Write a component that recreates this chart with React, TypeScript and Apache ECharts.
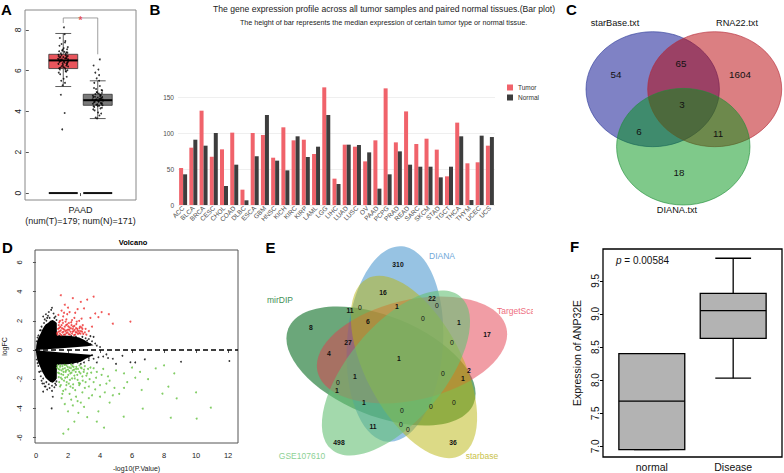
import React, { useEffect, useRef } from 'react';
import * as echarts from 'echarts';

const FONT = '"Liberation Sans", Arial, Helvetica, sans-serif';

// ---------------- Panel A : PAAD box plot ----------------
const paadGroupPos = [1, 2];
const paadBoxStats = [
  [5.22, 6.1, 6.5, 6.8, 7.82],
  [3.65, 4.3, 4.55, 4.84, 5.5],
];
const paadZeroLevel = [0, 0];
const paadBoxColors = ['#E9555C', '#7A7A7A'];
const paadLabel = 'PAAD';
const paadNumT = 179;
const paadNumN = 171;
const paadTicks = [0, 2, 4, 6, 8];
// [jitter offset, expression]
const paadTumorPoints = [
  [-0.08, 6.52], [0.05, 6.61], [0.12, 6.38], [-0.13, 6.7], [0.02, 6.45], [0.09, 6.9], [-0.04, 6.22], [0.14, 6.55], [-0.1, 6.05], [0.07, 6.75],
  [-0.02, 7.02], [0.11, 6.3], [-0.15, 6.58], [0.04, 6.15], [-0.07, 6.85], [0.13, 7.15], [-0.11, 6.42], [0.0, 6.66], [0.08, 5.95], [-0.05, 7.3],
  [0.15, 6.48], [-0.12, 6.12], [0.03, 6.92], [-0.09, 5.82], [0.1, 6.62], [-0.01, 6.28], [0.06, 7.45], [-0.14, 6.78], [0.12, 6.02], [-0.06, 6.5],
  [0.01, 5.6], [0.09, 6.35], [-0.03, 6.98], [0.14, 6.2], [-0.1, 7.6], [0.05, 5.4], [-0.08, 6.68], [0.11, 7.05], [-0.13, 5.9], [0.03, 6.4],
  [0.07, 6.83], [-0.04, 6.56], [0.1, 5.7], [-0.11, 7.22], [0.0, 6.18], [0.13, 6.72], [-0.06, 5.5], [0.04, 7.78], [-0.14, 6.33], [0.08, 6.6],
  [-0.02, 5.28], [0.12, 6.88], [-0.09, 6.47], [0.06, 6.08], [-0.12, 6.95], [0.02, 8.12], [-0.07, 4.82], [0.04, 3.92], [-0.03, 3.12], [0.09, 6.25],
  [-0.05, 6.77], [0.13, 6.42], [-0.1, 6.63], [0.01, 7.1], [0.07, 5.98], [-0.13, 6.52], [0.1, 6.7], [-0.02, 6.36], [0.05, 7.38], [-0.08, 6.15],
];
const paadNormalPoints = [
  [-0.08, 4.55], [0.05, 4.62], [0.12, 4.4], [-0.13, 4.7], [0.02, 4.48], [0.09, 4.8], [-0.04, 4.33], [0.14, 4.58], [-0.1, 4.22], [0.07, 4.75],
  [-0.02, 4.92], [0.11, 4.37], [-0.15, 4.6], [0.04, 4.28], [-0.07, 4.85], [0.13, 5.02], [-0.11, 4.45], [0.0, 4.68], [0.08, 4.15], [-0.05, 5.1],
  [0.15, 4.52], [-0.12, 4.25], [0.03, 4.88], [-0.09, 4.05], [0.1, 4.65], [-0.01, 4.35], [0.06, 5.25], [-0.14, 4.78], [0.12, 4.18], [-0.06, 4.57],
  [0.01, 3.95], [0.09, 4.42], [-0.03, 4.95], [0.14, 4.3], [-0.1, 5.4], [0.05, 3.8], [-0.08, 4.72], [0.11, 5.05], [-0.13, 4.1], [0.03, 4.5],
  [0.07, 4.82], [-0.04, 4.6], [0.1, 3.9], [-0.11, 5.15], [0.0, 4.27], [0.13, 4.7], [-0.06, 3.7], [0.04, 5.5], [-0.14, 4.38], [0.08, 4.63],
  [-0.02, 3.66], [0.12, 4.9], [-0.09, 4.47], [0.06, 6.55], [-0.12, 6.25], [0.02, 6.05], [-0.07, 5.9], [0.04, 5.78], [-0.03, 5.62], [0.09, 4.55],
];
const paadBracket = [[1, 8.33], [1, 8.58], [2, 8.58], [2, 6.8]];
const paadStar = [1.5, 8.58];

// ---------------- Panel B : pan-cancer bar plot ----------------
const cancerTypes = ['ACC', 'BLCA', 'BRCA', 'CESC', 'CHOL', 'COAD', 'DLBC', 'ESCA', 'GBM', 'HNSC', 'KICH', 'KIRC', 'KIRP', 'LAML', 'LGG', 'LIHC', 'LUAD', 'LUSC', 'OV', 'PAAD', 'PCPG', 'PRAD', 'READ', 'SARC', 'SKCM', 'STAD', 'TGCT', 'THCA', 'THYM', 'UCEC', 'UCS'];
const tumorMedian = [51.4, 79.6, 131, 67, 77.3, 100.5, 21.3, 100, 97.2, 65.7, 107.9, 89.8, 90.7, 70.8, 163.4, 36.6, 83.8, 81, 60.6, 89.8, 162, 87, 130, 84.7, 92.1, 76.9, 39.8, 114.4, 57.9, 59.3, 82.4];
const normalMedian = [42.6, 90.7, 82.4, 100, 26.4, 56, 6.5, 67.6, 125, 61.6, 48.1, 95.4, 66.7, 81, 125, 29.2, 83.8, 83.3, 73.1, 22.7, 42.6, 74.5, 56, 53.2, 53.2, 38.4, 53.2, 95.4, 6.9, 96.3, 94.4];
const barTitle = 'The gene expression profile across all tumor samples and paired normal tissues.(Bar plot)';
const barSubtitle = 'The height of bar represents the median expression of certain tumor type or normal tissue.';

// ---------------- Panel C : 3-set Venn ----------------
const vennCSets = ['starBase.txt', 'RNA22.txt', 'DIANA.txt'];
const vennCCounts = [54, 65, 1604, 3, 6, 11, 18];

// ---------------- Panel D : volcano ----------------
const volcanoUpperBlob = [[0.0, 0.0], [0.02, 0.3], [0.06, 0.55], [0.12, 0.75], [0.2, 0.95], [0.3, 1.15], [0.4, 1.4], [0.5, 1.6], [0.6, 1.75], [0.75, 1.85], [0.9, 2.0], [1.05, 2.05], [1.2, 1.95], [1.3, 1.85], [1.31, 1.0], [1.6, 1.0], [2.0, 0.98], [2.4, 0.92], [2.7, 0.85], [3.0, 0.7], [3.3, 0.5], [3.6, 0.32], [3.2, 0.25], [2.6, 0.2], [2.0, 0.15], [1.4, 0.1], [0.9, 0.07], [0.5, 0.04], [0.2, 0.02]];
const volcanoLowerBlob = [[0.0, 0.0], [0.02, -0.3], [0.06, -0.55], [0.12, -0.8], [0.2, -1.0], [0.3, -1.25], [0.4, -1.5], [0.5, -1.7], [0.6, -1.9], [0.75, -2.05], [0.9, -2.2], [1.05, -2.25], [1.2, -2.1], [1.3, -1.95], [1.31, -1.0], [1.6, -1.0], [2.0, -0.98], [2.4, -0.9], [2.8, -0.8], [3.1, -0.6], [3.4, -0.45], [3.6, -0.35], [3.2, -0.3], [2.6, -0.25], [2.0, -0.2], [1.4, -0.15], [0.9, -0.1], [0.5, -0.06], [0.2, -0.03]];
const volcanoNotSig = [[0.45, 2.3], [0.62, 2.45], [0.8, 2.6], [0.95, 2.75], [1.1, 2.5], [1.22, 2.3], [1.0, 2.9], [0.7, 2.2], [0.35, 1.6], [0.25, 1.35], [1.45, 0.95], [2.9, 0.9], [3.1, 0.8], [3.3, 0.75], [3.5, 0.6], [3.7, 0.45], [3.8, 0.3], [4.0, 0.2], [3.6, 0.9], [3.4, 0.95],
  [0.4, -2.3], [0.55, -2.5], [0.7, -2.7], [0.85, -2.6], [1.0, -2.8], [1.15, -2.55], [1.25, -2.4], [0.45, -2.85], [0.98, -4.0], [1.05, -3.2], [0.3, -1.8], [0.2, -1.5], [3.0, -0.85], [3.3, -0.7], [3.6, -0.6], [3.9, -0.5], [4.2, -0.45], [4.5, -0.55], [4.8, -0.6], [5.0, -0.95], [5.4, -0.4], [5.9, -0.84], [6.2, -0.85], [6.8, -0.64], [9.06, -0.8], [12.08, -0.75], [4.4, -0.3], [3.8, -0.85], [2.8, -0.95], [3.5, -0.35],
  [0.15, 1.0], [0.3, 1.35], [0.5, 1.85], [0.65, 2.0], [0.85, 2.2], [1.15, 2.2], [1.28, 2.05], [0.55, 2.1], [0.75, 2.35], [1.35, 0.9], [1.6, 0.92], [2.2, 0.95], [2.5, 0.9], [3.2, 0.65], [3.4, 0.4], [0.05, 0.6], [0.1, 0.85],
  [0.15, -1.1], [0.3, -1.45], [0.45, -1.95], [0.65, -2.2], [0.8, -2.35], [1.0, -2.45], [1.2, -2.3], [1.28, -2.15], [0.6, -2.5], [1.4, -0.95], [1.8, -0.95], [2.3, -0.92], [2.6, -0.85], [3.3, -0.55], [0.05, -0.65], [0.1, -0.9], [0.35, -2.1], [0.5, -2.3]];
const volcanoUp = [[1.35, 1.05], [1.4, 1.25], [1.45, 1.5], [1.5, 1.1], [1.55, 1.35], [1.6, 1.7], [1.65, 1.2], [1.7, 1.45], [1.75, 1.05], [1.8, 1.6], [1.85, 1.3], [1.9, 1.15], [1.95, 1.75], [2.0, 1.4], [2.05, 1.08], [2.1, 1.55], [2.15, 1.25], [2.2, 1.9], [2.25, 1.12], [2.3, 1.45], [2.35, 1.3], [2.4, 1.65], [2.45, 1.05], [2.5, 1.5], [2.55, 1.2], [2.6, 1.35], [2.7, 1.15], [2.75, 1.6], [2.8, 1.3], [2.9, 1.45], [2.95, 1.1], [1.5, 2.0], [1.7, 2.3], [1.9, 2.1], [2.1, 2.6], [2.4, 2.2], [2.7, 2.0], [1.6, 2.7], [2.0, 2.9], [1.8, 3.1], [1.55, 3.75], [2.3, 3.55], [2.8, 3.3], [3.2, 3.45], [3.6, 3.65], [3.0, 2.85], [3.4, 2.2], [3.7, 2.5], [3.9, 2.25], [4.1, 2.6], [4.55, 2.45], [4.8, 1.8], [5.9, 1.95], [3.3, 1.3], [3.5, 1.6], [3.15, 1.05], [1.4, 2.4], [2.6, 2.8],
  [1.32, 1.15], [1.38, 1.45], [1.42, 1.7], [1.48, 1.28], [1.52, 1.58], [1.58, 1.02], [1.62, 1.5], [1.68, 1.85], [1.72, 1.25], [1.78, 1.4], [1.82, 1.05], [1.88, 1.7], [1.92, 1.35], [1.98, 1.2], [2.02, 1.62], [2.08, 1.38], [2.12, 1.05], [2.18, 1.48], [2.22, 1.7], [2.28, 1.25], [2.32, 1.6], [2.38, 1.02], [2.42, 1.38], [2.48, 1.22], [2.52, 1.78], [2.58, 1.45], [2.62, 1.1], [2.68, 1.3], [2.72, 1.5], [2.78, 1.12], [2.85, 1.55], [2.88, 1.25], [2.92, 1.7], [3.05, 1.2], [3.1, 1.45], [1.45, 1.9], [1.65, 2.05], [1.85, 1.95], [2.05, 1.85], [2.25, 2.05], [2.55, 1.95], [2.85, 2.15], [1.95, 2.45], [2.45, 2.55], [1.75, 2.55]];
const volcanoDown = [[1.35, -1.05], [1.4, -1.3], [1.45, -1.6], [1.5, -1.15], [1.55, -1.9], [1.6, -1.4], [1.65, -1.1], [1.7, -1.7], [1.75, -2.1], [1.8, -1.25], [1.85, -1.5], [1.9, -1.05], [1.95, -1.85], [2.0, -1.35], [2.05, -2.3], [2.1, -1.2], [2.15, -1.6], [2.2, -1.0], [2.25, -1.95], [2.3, -1.4], [2.35, -1.15], [2.4, -1.75], [2.5, -1.3], [2.6, -2.05], [2.7, -1.5], [2.8, -1.2], [2.9, -1.8], [3.0, -1.35], [3.1, -2.2], [3.2, -1.6], [1.5, -2.5], [1.7, -2.8], [1.9, -2.4], [2.1, -3.0], [2.3, -2.6], [2.5, -3.2], [2.7, -2.4], [2.9, -2.9], [3.3, -2.5], [3.5, -3.1], [3.7, -2.7], [4.0, -2.4], [4.3, -2.9], [4.6, -2.1], [4.9, -2.6], [5.2, -3.0], [3.4, -1.2], [3.8, -1.5], [4.2, -1.3], [4.5, -1.8], [5.0, -1.4], [5.5, -1.6], [6.0, -1.2], [6.6, -2.74], [6.67, -4.02], [7.48, -1.26], [7.9, -2.99], [8.0, -1.05], [8.27, -2.51], [8.64, -1.6], [8.79, -3.31], [8.42, -4.64], [10.0, -2.9], [10.04, -4.7], [10.92, -3.95], [5.48, -4.57], [4.25, -5.32], [3.8, -4.9], [3.2, -4.6], [2.4, -4.9], [2.0, -4.2], [2.02, -5.43], [1.71, -5.73], [2.3, -3.8], [2.8, -3.6], [1.6, -3.3], [1.8, -3.7], [3.0, -3.9], [4.6, -3.6], [5.5, -2.6], [6.2, -1.9], [1.45, -2.2], [2.65, -4.3],
  [1.32, -1.2], [1.38, -1.55], [1.42, -1.85], [1.48, -1.35], [1.52, -1.05], [1.58, -1.65], [1.62, -2.0], [1.68, -1.3], [1.72, -1.5], [1.78, -1.02], [1.82, -1.9], [1.88, -1.4], [1.92, -2.2], [1.98, -1.15], [2.02, -1.7], [2.08, -1.45], [2.12, -2.05], [2.18, -1.25], [2.22, -1.55], [2.28, -1.1], [2.32, -2.35], [2.38, -1.35], [2.42, -1.95], [2.48, -1.5], [2.52, -1.15], [2.58, -1.7], [2.62, -1.3], [2.68, -2.25], [2.72, -1.05], [2.78, -1.6], [2.85, -1.25], [2.92, -2.1], [2.98, -1.5], [3.05, -1.1], [3.15, -1.75], [3.25, -1.3], [3.35, -2.0], [3.45, -1.55], [3.6, -1.25], [3.75, -1.9], [1.55, -2.4], [1.85, -2.7], [2.15, -2.5], [2.45, -2.75], [2.75, -2.3], [3.05, -2.6], [3.6, -2.2], [4.1, -1.7], [4.4, -2.3], [1.65, -3.0], [2.2, -3.4], [2.6, -3.5], [3.3, -3.3], [4.0, -3.2], [3.9, -4.2], [4.8, -3.1], [5.7, -2.2], [6.5, -1.5], [7.0, -2.0]];
const volcanoXTicks = [0, 2, 4, 6, 8, 10, 12];
const volcanoYTicks = [-6, -4, -2, 0, 2, 4, 6];

// ---------------- Panel E : 5-set Venn ----------------
const vennESets = ['mirDIP', 'DIANA', 'TargetScan', 'starbase', 'GSE107610'];
const vennECounts = [310, 16, 22, 0, 11, 0, 1, 0, 1, 8, 6, 27, 0, 17, 4, 1, 0, 2, 1, 1, 0, 1, 1, 0, 0, 0, 11, 0, 0, 498, 36];

// ---------------- Panel F : ANP32E box plot ----------------
const fGroups = ['normal', 'Disease'];
const fGroupPos = [1, 2];
const fBoxStats = [
  [6.95, 6.95, 7.685, 8.4, 8.4],
  [8.03, 8.63, 9.05, 9.31, 9.84],
];
const fTicks = [7.0, 7.5, 8.0, 8.5, 9.0, 9.5];
const fPValue = '0.00584';

// ---------------- layout helpers ----------------
const txt = (x: number, y: number, text: string, o: any = {}) => ({
  type: 'text', x, y, z: o.z ?? 20, silent: true, rotation: o.rotation ?? 0,
  style: {
    text, fill: o.color ?? '#000', fontSize: o.size ?? 9, fontFamily: FONT,
    fontWeight: o.weight ?? 'normal', fontStyle: o.style ?? 'normal',
    textAlign: o.align ?? 'center', textVerticalAlign: o.valign ?? 'middle',
  },
});

const ell = (cx: number, cy: number, rx: number, ry: number, rotDeg: number, fill: string, stroke: string | null, z: number) => ({
  type: 'ellipse', x: cx, y: cy, rotation: (rotDeg * Math.PI) / 180, z, silent: true,
  shape: { cx: 0, cy: 0, rx, ry },
  style: { fill, stroke: stroke ?? 'none', lineWidth: stroke ? 1 : 0 },
});

function boxRenderer(halfW: number, capHalf: number, fills: string[], stroke: string, lw: number, medLw: number) {
  return (params: any, api: any) => {
    const i = params.dataIndex;
    const x = api.value(0);
    const lo = api.value(1), q1 = api.value(2), med = api.value(3), q3 = api.value(4), hi = api.value(5);
    const c = (a: number, b: number) => api.coord([a, b]);
    const tl = c(x - halfW, q3);
    const br = c(x + halfW, q1);
    const ln = (a: number[], b: number[], w: number, col: string) => ({
      type: 'line', shape: { x1: a[0], y1: a[1], x2: b[0], y2: b[1] }, style: { stroke: col, lineWidth: w },
    });
    return {
      type: 'group',
      children: [
        ln(c(x, q3), c(x, hi), lw, stroke),
        ln(c(x, q1), c(x, lo), lw, stroke),
        ln(c(x - capHalf, hi), c(x + capHalf, hi), lw, stroke),
        ln(c(x - capHalf, lo), c(x + capHalf, lo), lw, stroke),
        { type: 'rect', shape: { x: tl[0], y: tl[1], width: br[0] - tl[0], height: br[1] - tl[1] }, style: { fill: fills[i], stroke, lineWidth: lw } },
        ln(c(x - halfW, med), c(x + halfW, med), medLw, '#000'),
      ],
    };
  };
}

function buildOption() {
  const vennCPos = [[616, 74], [681, 63], [740, 74], [682, 104], [639, 131], [718, 133], [679, 172]];
  const vennCLabelPos = [[615, 23], [737, 23], [677, 210]];
  const vennEPos = [[398, 264], [383, 292], [432, 298], [437, 305], [350, 310], [360, 307], [397, 306], [423, 318], [459, 322], [311, 327], [368, 321], [348, 342], [452, 342], [487, 334], [329, 353], [399, 358], [443, 373], [469, 370], [463, 378], [355, 376], [338, 382], [337, 390], [364, 402], [402, 410], [431, 406], [454, 402], [373, 426], [401, 424], [408, 429], [339, 442], [453, 442]];

  const graphic: any[] = [
    // panel letters
    txt(6.5, 9.5, 'A', { size: 15, weight: 'bold' }),
    txt(155, 9.5, 'B', { size: 15, weight: 'bold' }),
    txt(571.5, 9.5, 'C', { size: 15, weight: 'bold' }),
    txt(7.5, 247, 'D', { size: 15, weight: 'bold' }),
    txt(270.5, 247, 'E', { size: 15, weight: 'bold' }),
    txt(574.5, 246, 'F', { size: 15, weight: 'bold' }),
    // panel B titles
    txt(384, 8.5, barTitle, { size: 8.6, color: '#222' }),
    txt(383.5, 22.7, barSubtitle, { size: 7.2, color: '#222' }),
    // panel D title
    txt(133, 242, 'Volcano', { size: 7.5, weight: 'bold' }),
    // panel C Venn
    ell(652.7, 89.2, 66.7, 57.5, 0, 'rgba(0,5,140,0.5)', 'rgba(40,55,150,0.6)', 1),
    ell(714.7, 89.2, 67, 57.5, 0, 'rgba(183,0,5,0.5)', 'rgba(180,40,55,0.6)', 2),
    ell(683.3, 146.7, 66.7, 58.3, 0, 'rgba(0,147,21,0.5)', 'rgba(30,140,55,0.6)', 3),
    ...vennCSets.map((s, i) => txt(vennCLabelPos[i][0], vennCLabelPos[i][1], s, { size: 9.2, color: '#111' })),
    ...vennCCounts.map((n, i) => txt(vennCPos[i][0], vennCPos[i][1], String(n), { size: 9.8, color: '#111' })),
    // panel E Venn (drawing order: mirDIP, DIANA, TargetScan, starbase, GSE107610)
    ell(381, 366, 100, 50, -22, 'rgba(44,129,65,0.7)', null, 1),
    ell(395, 344, 98, 48, 86, 'rgba(48,135,199,0.5)', null, 2),
    ell(412, 350, 97, 50, 13, 'rgba(228,60,75,0.5)', null, 3),
    ell(414, 367, 100, 48, -62, 'rgba(186,182,13,0.5)', null, 4),
    ell(396, 373, 100, 48, 50, 'rgba(102,192,117,0.6)', null, 5),
    ...vennECounts.map((n, i) => txt(vennEPos[i][0], vennEPos[i][1], String(n), { size: 6.8, weight: n === 0 ? 'normal' : 'bold', color: '#111' })),
    txt(280, 300, vennESets[0], { size: 8.5, color: '#3F8F55' }),
    txt(442, 256, vennESets[1], { size: 8.5, color: '#6FA8D8' }),
    txt(497, 311, vennESets[2], { size: 8.5, color: '#EE6E7E', align: 'left' }),
    { type: 'rect', z: 21, silent: true, shape: { x: 533, y: 300, width: 30, height: 22 }, style: { fill: '#fff' } },
    txt(482, 456, vennESets[3], { size: 8.5, color: '#C9C24A' }),
    txt(302, 456, vennESets[4], { size: 8.5, color: '#8DD195' }),
    // panel F p-value
    {
      type: 'text', x: 616, y: 260, z: 20, silent: true,
      style: {
        text: '{i|p} = ' + fPValue, fill: '#111', fontSize: 10, fontFamily: FONT, textAlign: 'left', textVerticalAlign: 'middle',
        rich: { i: { fontStyle: 'italic', fontSize: 10, fontFamily: FONT, fill: '#111' } },
      },
    },
  ];

  return {
    animation: false,
    backgroundColor: '#fff',
    textStyle: { fontFamily: FONT },
    legend: {
      data: ['Tumor', 'Normal'], orient: 'vertical', left: 507, top: 84, itemWidth: 6, itemHeight: 6, itemGap: 3,
      icon: 'rect', padding: 0, textStyle: { fontSize: 6.5, color: '#333', fontFamily: FONT },
    },
    grid: [
      { left: 25, top: 10, width: 111, height: 190, show: true, borderColor: '#888', borderWidth: 1, backgroundColor: 'transparent' },
      { left: 178, top: 79, width: 317, height: 126, show: false },
      { left: 35, top: 250, width: 203, height: 193, show: true, borderColor: '#555', borderWidth: 1, backgroundColor: 'transparent' },
      { left: 603, top: 249, width: 179, height: 208, show: true, borderColor: '#000', borderWidth: 1.3, backgroundColor: 'transparent' },
    ],
    xAxis: [
      {
        type: 'value', gridIndex: 0, min: -0.11, max: 3.11, axisLine: { show: false }, splitLine: { show: false },
        axisTick: { show: true, customValues: [1.5], length: 3, lineStyle: { color: '#555' } },
        axisLabel: { customValues: [1.5], formatter: () => `${paadLabel}\n(num(T)=${paadNumT}; num(N)=${paadNumN})`, fontSize: 9, lineHeight: 11, color: '#222', margin: 4 },
      },
      {
        type: 'category', gridIndex: 1, data: cancerTypes, axisLine: { show: false }, axisTick: { show: false },
        axisLabel: { interval: 0, rotate: 45, fontSize: 6.5, color: '#4d4d4d', margin: 2 },
      },
      {
        type: 'value', gridIndex: 2, min: -0.06, max: 12.62, axisLine: { show: false }, splitLine: { show: false },
        axisTick: { show: true, customValues: volcanoXTicks, length: 3, lineStyle: { color: '#555' } },
        axisLabel: { customValues: volcanoXTicks, fontSize: 7.5, color: '#222', margin: 8 },
        name: '-log10(P.Value)', nameLocation: 'middle', nameGap: 22, nameTextStyle: { fontSize: 7, color: '#222' },
      },
      {
        type: 'value', gridIndex: 3, min: 0.4, max: 2.6, axisLine: { show: false }, splitLine: { show: false },
        axisTick: { show: false },
        axisLabel: { customValues: fGroupPos, formatter: (v: number) => fGroups[Math.round(v) - 1] ?? '', fontSize: 10.5, color: '#111', margin: 4 },
      },
    ],
    yAxis: [
      {
        type: 'value', gridIndex: 0, min: -0.34, max: 8.97, axisLine: { show: false }, splitLine: { show: false },
        axisTick: { show: true, customValues: paadTicks, length: 3, lineStyle: { color: '#555' } },
        axisLabel: { customValues: paadTicks, rotate: 90, fontSize: 8.5, color: '#222', margin: 3 },
      },
      {
        type: 'value', gridIndex: 1, min: 0, max: 175, interval: 50, axisLine: { show: false }, axisTick: { show: false },
        splitLine: { show: true, lineStyle: { color: ['#ebebeb', '#ebebeb', '#ebebeb', '#ebebeb', 'rgba(0,0,0,0)'], width: 0.8 } },
        axisLabel: { formatter: (v: number) => (v % 50 === 0 ? String(v) : ''), fontSize: 6.5, color: '#4d4d4d', margin: 4 },
      },
      {
        type: 'value', gridIndex: 2, min: -6.37, max: 6.85, axisLine: { show: false }, splitLine: { show: false },
        axisTick: { show: true, customValues: volcanoYTicks, length: 3, lineStyle: { color: '#555' } },
        axisLabel: { customValues: volcanoYTicks, rotate: 90, fontSize: 7.5, color: '#222', margin: 12 },
        name: 'logFC', nameLocation: 'middle', nameGap: 27, nameRotate: 90, nameTextStyle: { fontSize: 7, color: '#222' },
      },
      {
        type: 'value', gridIndex: 3, min: 6.84, max: 9.98, axisLine: { show: false }, splitLine: { show: false },
        axisTick: { show: true, customValues: fTicks, length: 3, lineStyle: { color: '#000' } },
        axisLabel: { customValues: fTicks, formatter: (v: number) => v.toFixed(1), rotate: 90, fontSize: 10, color: '#111', margin: 3 },
        name: 'Expression of ANP32E', nameLocation: 'middle', nameGap: 21, nameRotate: 90, nameTextStyle: { fontSize: 10.5, color: '#111' },
      },
    ],
    series: [
      // ---- A ----
      {
        type: 'custom', xAxisIndex: 0, yAxisIndex: 0, silent: true, z: 2,
        data: paadGroupPos.map((x, i) => [x, ...paadBoxStats[i]]),
        encode: { x: 0, y: [1, 2, 3, 4, 5] },
        renderItem: boxRenderer(0.42, 0.23, paadBoxColors, '#333', 0.8, 2),
      },
      {
        type: 'custom', xAxisIndex: 0, yAxisIndex: 0, silent: true, z: 2,
        data: paadGroupPos.map((x, i) => [x, paadZeroLevel[i]]),
        renderItem: (params: any, api: any) => {
          const a = api.coord([api.value(0) - 0.42, api.value(1)]);
          const b = api.coord([api.value(0) + 0.42, api.value(1)]);
          return { type: 'line', shape: { x1: a[0], y1: a[1], x2: b[0], y2: b[1] }, style: { stroke: '#111', lineWidth: 2 } };
        },
      },
      {
        type: 'scatter', xAxisIndex: 0, yAxisIndex: 0, silent: true, z: 3, symbolSize: 1.8,
        itemStyle: { color: '#000' },
        data: paadTumorPoints.map(([dx, v]) => [paadGroupPos[0] + dx, v]),
      },
      {
        type: 'scatter', xAxisIndex: 0, yAxisIndex: 0, silent: true, z: 3, symbolSize: 1.8,
        itemStyle: { color: '#000' },
        data: paadNormalPoints.map(([dx, v]) => [paadGroupPos[1] + dx, v]),
      },
      {
        type: 'line', xAxisIndex: 0, yAxisIndex: 0, silent: true, z: 3, showSymbol: false, symbol: 'none',
        lineStyle: { color: '#888', width: 0.8 }, data: paadBracket,
      },
      {
        type: 'scatter', xAxisIndex: 0, yAxisIndex: 0, silent: true, z: 4, symbolSize: 0,
        data: [paadStar],
        label: { show: true, position: 'inside', formatter: '*', color: '#E8333B', fontSize: 10, fontWeight: 'bold', offset: [0, 3] },
      },
      // ---- B ----
      {
        name: 'Tumor', type: 'bar', xAxisIndex: 1, yAxisIndex: 1, data: tumorMedian, barWidth: 4, barGap: '0%',
        itemStyle: { color: '#F0636B' }, silent: true,
      },
      {
        name: 'Normal', type: 'bar', xAxisIndex: 1, yAxisIndex: 1, data: normalMedian, barWidth: 4, barGap: '0%',
        itemStyle: { color: '#3D3D3D' }, silent: true,
      },
      // ---- D ----
      {
        type: 'custom', xAxisIndex: 2, yAxisIndex: 2, silent: true, z: 2, data: [[0, 0]],
        renderItem: (params: any, api: any) => ({
          type: 'group',
          children: [volcanoUpperBlob, volcanoLowerBlob].map((poly) => ({
            type: 'polygon', shape: { points: poly.map((p) => api.coord(p)) }, style: { fill: '#000' },
          })),
        }),
      },
      { type: 'scatter', xAxisIndex: 2, yAxisIndex: 2, silent: true, z: 3, symbolSize: 1.8, itemStyle: { color: '#000' }, data: volcanoNotSig },
      { type: 'scatter', xAxisIndex: 2, yAxisIndex: 2, silent: true, z: 3, symbolSize: 2, itemStyle: { color: '#EE2A2A' }, data: volcanoUp },
      { type: 'scatter', xAxisIndex: 2, yAxisIndex: 2, silent: true, z: 3, symbolSize: 2, itemStyle: { color: '#63C13E' }, data: volcanoDown },
      {
        type: 'line', xAxisIndex: 2, yAxisIndex: 2, silent: true, z: 4, showSymbol: false, symbol: 'none',
        lineStyle: { color: '#000', width: 1.5, type: [5, 3] }, data: [[-0.06, 0], [12.62, 0]],
      },
      // ---- F ----
      {
        type: 'custom', xAxisIndex: 3, yAxisIndex: 3, silent: true, z: 2,
        data: fGroupPos.map((x, i) => [x, ...fBoxStats[i]]),
        encode: { x: 0, y: [1, 2, 3, 4, 5] },
        renderItem: boxRenderer(0.405, 0.22, ['#B3B3B3', '#B3B3B3'], '#000', 1.3, 1.3),
      },
    ],
    graphic,
  };
}

export default function App() {
  const ref = useRef<HTMLDivElement>(null);
  useEffect(() => {
    if (!ref.current) return;
    const chart = echarts.init(ref.current, null, { renderer: 'svg' });
    chart.setOption(buildOption() as any);
    return () => chart.dispose();
  }, []);
  return (
    <div
      ref={ref}
      style={{ position: 'absolute', left: 0, top: 0, width: 784, height: 473, background: '#fff' }}
    />
  );
}
